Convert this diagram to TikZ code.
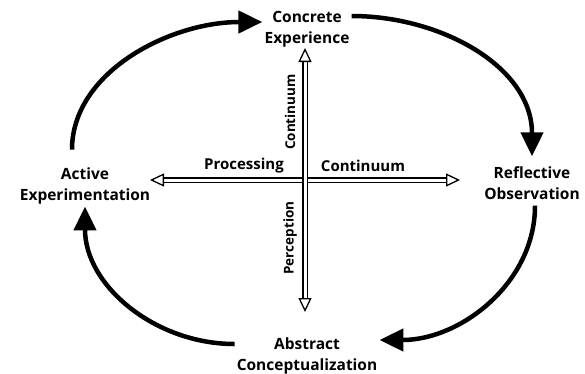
\documentclass[tikz,border=0pt]{standalone}
\usepackage{fontspec}
\setsansfont{Open Sans}
\usetikzlibrary{arrows.meta,positioning}
\tikzset{
  stage/.style={font=\sffamily\bfseries\fontsize{15.5}{21}\selectfont,align=center,inner sep=2pt},
  axislabel/.style={font=\sffamily\bfseries\fontsize{15}{16}\selectfont,inner sep=1pt},
  sidelabel/.style={axislabel,font=\sffamily\bfseries\fontsize{13.5}{16}\selectfont,rotate=90},
  cyc/.style={-{Triangle[length=24pt,width=22pt]},line width=4.5pt},
  axis/.style={{Triangle[open,length=14pt,width=13pt]}-{Triangle[open,length=14pt,width=13pt]},double=white,double distance=3pt,line width=1.3pt}
}
\begin{document}
\begin{tikzpicture}[x=1pt,y=-1pt]
\useasboundingbox (0,0) rectangle (585,373);
% stages of the cycle
\node[stage] (ce) at (307,29) {Concrete\\Experience};
\node[stage] (ro) at (532,183) {Reflective\\Observation};
\node[stage] (ac) at (307,356) {Abstract\\Conceptualization};
\node[stage] (ae) at (85,186) {Active\\Experimentation};

% the two axes
\coordinate (pl) at (150,180);
\coordinate (pr) at (460,180);
\coordinate (pt) at (305,48);
\coordinate (pb) at (305,312);
\draw[axis] (pl) -- (pr);
\draw[axis] (pt) -- (pb);
\node[fill=white,inner sep=0pt,minimum size=3pt] (mid) at (305,180) {};

\node[axislabel] (proc) at (244,166) {Processing};
\node[axislabel] (cont) at (363,166) {Continuum};
\node[sidelabel] (contv) at (290,112) {Continuum};
\node[sidelabel] (perc) at (290,238) {Perception};

% cycle arrows
\draw[cyc,shorten <=16pt] ([xshift=-13pt]ae.north) to[out=90,in=180] ([yshift=7pt]ce.west);
\draw[cyc] ([yshift=13pt]ce.east) to[out=0,in=90] ([yshift=8pt]ro.north);
\draw[cyc,shorten <=4pt] ([xshift=3pt]ro.south) to[out=-90,in=0] ([yshift=16pt]ac.east);
\draw[cyc] ([yshift=12pt]ac.west) to[out=180,in=-90] (ae.south);
\end{tikzpicture}
\end{document}
